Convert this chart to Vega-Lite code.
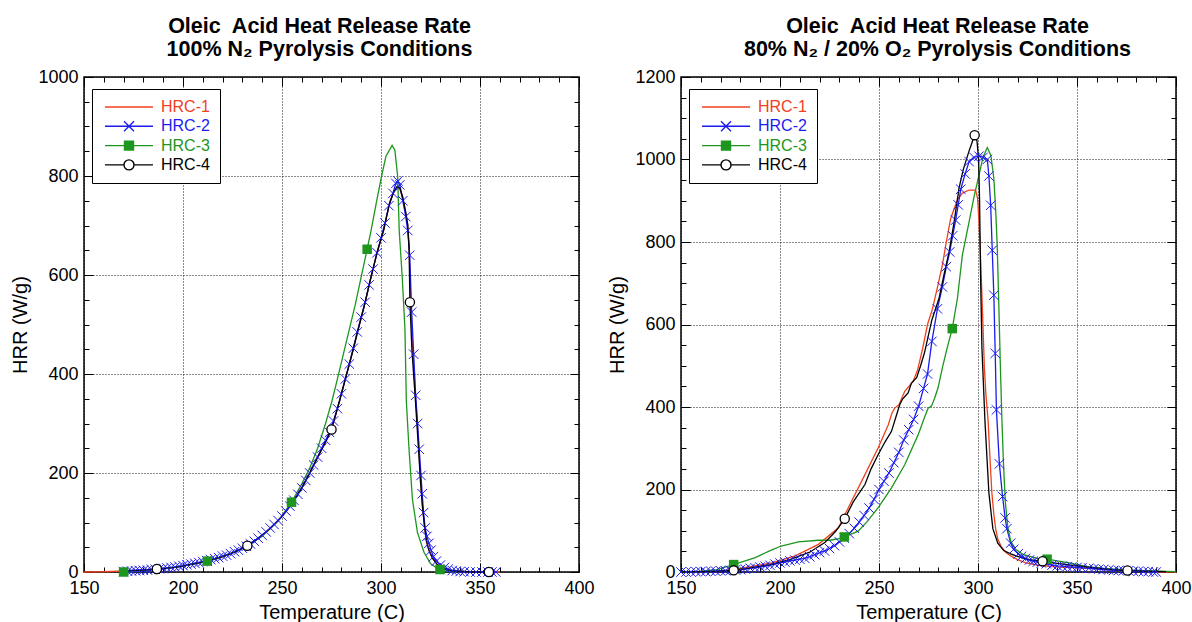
{
"$schema": "https://vega.github.io/schema/vega-lite/v6.json",
"background": "white",
"padding": {"left": 10, "top": 15, "right": 5, "bottom": 0},
"config": {
  "font": "Liberation Sans",
  "view": {"stroke": "#000", "strokeWidth": 1.5},
  "title": {"fontSize": 21.5, "fontWeight": "bold", "color": "#000", "anchor": "middle", "lineHeight": 22.5, "offset": 8, "baseline": "bottom"},
  "concat": {"spacing": 12}
},
"resolve": {
  "scale": {"color": "independent", "shape": "independent", "stroke": "independent", "fill": "independent"},
  "legend": {"color": "independent", "shape": "independent", "stroke": "independent", "fill": "independent"}
},
"datasets": {
"left": [
{"series":"HRC-1","T":150,"hrr":0},{"series":"HRC-1","T":160,"hrr":0.5},{"series":"HRC-1","T":170,"hrr":2},{"series":"HRC-1","T":180,"hrr":4},{"series":"HRC-1","T":187,"hrr":6},{"series":"HRC-1","T":195,"hrr":9},{"series":"HRC-1","T":200,"hrr":12},{"series":"HRC-1","T":206,"hrr":17},{"series":"HRC-1","T":212,"hrr":22},{"series":"HRC-1","T":220,"hrr":31},{"series":"HRC-1","T":226,"hrr":40},{"series":"HRC-1","T":232.5,"hrr":53},{"series":"HRC-1","T":238,"hrr":68},{"series":"HRC-1","T":244,"hrr":88},{"series":"HRC-1","T":250,"hrr":112},{"series":"HRC-1","T":255,"hrr":138},{"series":"HRC-1","T":260,"hrr":170},{"series":"HRC-1","T":264,"hrr":200},{"series":"HRC-1","T":268,"hrr":232},{"series":"HRC-1","T":272,"hrr":262},{"series":"HRC-1","T":275,"hrr":288},{"series":"HRC-1","T":279,"hrr":345},{"series":"HRC-1","T":283,"hrr":405},{"series":"HRC-1","T":286,"hrr":450},{"series":"HRC-1","T":288.5,"hrr":490},{"series":"HRC-1","T":292,"hrr":545},{"series":"HRC-1","T":295,"hrr":597},{"series":"HRC-1","T":298,"hrr":645},{"series":"HRC-1","T":301.4,"hrr":691},{"series":"HRC-1","T":304.3,"hrr":745},{"series":"HRC-1","T":306.5,"hrr":768},{"series":"HRC-1","T":308,"hrr":777},{"series":"HRC-1","T":309.5,"hrr":774},{"series":"HRC-1","T":311,"hrr":755},{"series":"HRC-1","T":312.5,"hrr":725},{"series":"HRC-1","T":313.5,"hrr":700},{"series":"HRC-1","T":314.2,"hrr":660},{"series":"HRC-1","T":314.6,"hrr":600},{"series":"HRC-1","T":315,"hrr":545},{"series":"HRC-1","T":316,"hrr":450},{"series":"HRC-1","T":317.6,"hrr":345},{"series":"HRC-1","T":319.2,"hrr":245},{"series":"HRC-1","T":320,"hrr":180},{"series":"HRC-1","T":321,"hrr":130},{"series":"HRC-1","T":322,"hrr":91},{"series":"HRC-1","T":323,"hrr":62},{"series":"HRC-1","T":324.2,"hrr":44},{"series":"HRC-1","T":326,"hrr":28},{"series":"HRC-1","T":328.4,"hrr":15},{"series":"HRC-1","T":331,"hrr":8},{"series":"HRC-1","T":334,"hrr":4},{"series":"HRC-1","T":337,"hrr":2},{"series":"HRC-1","T":341,"hrr":1},{"series":"HRC-1","T":346,"hrr":0},{"series":"HRC-1","T":360,"hrr":0},
{"series":"HRC-2","T":170,"hrr":1},{"series":"HRC-2","T":172,"hrr":1.5},{"series":"HRC-2","T":174,"hrr":2},{"series":"HRC-2","T":176,"hrr":2.5},{"series":"HRC-2","T":178,"hrr":3},{"series":"HRC-2","T":180,"hrr":3.5},{"series":"HRC-2","T":182,"hrr":4},{"series":"HRC-2","T":184,"hrr":5},{"series":"HRC-2","T":186,"hrr":5.5},{"series":"HRC-2","T":188,"hrr":6.5},{"series":"HRC-2","T":190,"hrr":7},{"series":"HRC-2","T":192,"hrr":8},{"series":"HRC-2","T":194,"hrr":9},{"series":"HRC-2","T":196,"hrr":10},{"series":"HRC-2","T":198,"hrr":11.5},{"series":"HRC-2","T":200,"hrr":13},{"series":"HRC-2","T":202,"hrr":14.5},{"series":"HRC-2","T":204,"hrr":16},{"series":"HRC-2","T":206,"hrr":17.5},{"series":"HRC-2","T":208,"hrr":19},{"series":"HRC-2","T":210,"hrr":21},{"series":"HRC-2","T":212,"hrr":23},{"series":"HRC-2","T":214,"hrr":25},{"series":"HRC-2","T":216,"hrr":27},{"series":"HRC-2","T":218,"hrr":29},{"series":"HRC-2","T":220,"hrr":32},{"series":"HRC-2","T":222,"hrr":34},{"series":"HRC-2","T":224,"hrr":37},{"series":"HRC-2","T":226,"hrr":41},{"series":"HRC-2","T":228,"hrr":44},{"series":"HRC-2","T":230,"hrr":48},{"series":"HRC-2","T":232,"hrr":52},{"series":"HRC-2","T":234,"hrr":57},{"series":"HRC-2","T":236,"hrr":62},{"series":"HRC-2","T":238,"hrr":68},{"series":"HRC-2","T":240,"hrr":74},{"series":"HRC-2","T":242,"hrr":81},{"series":"HRC-2","T":244,"hrr":89},{"series":"HRC-2","T":246,"hrr":96},{"series":"HRC-2","T":248,"hrr":104},{"series":"HRC-2","T":250,"hrr":113},{"series":"HRC-2","T":252,"hrr":123},{"series":"HRC-2","T":254,"hrr":133},{"series":"HRC-2","T":256,"hrr":145},{"series":"HRC-2","T":258,"hrr":157},{"series":"HRC-2","T":260,"hrr":170},{"series":"HRC-2","T":262,"hrr":185},{"series":"HRC-2","T":264,"hrr":200},{"series":"HRC-2","T":266,"hrr":216},{"series":"HRC-2","T":268,"hrr":232},{"series":"HRC-2","T":270,"hrr":250},{"series":"HRC-2","T":272,"hrr":266},{"series":"HRC-2","T":274,"hrr":282},{"series":"HRC-2","T":276,"hrr":305},{"series":"HRC-2","T":278,"hrr":330},{"series":"HRC-2","T":280,"hrr":360},{"series":"HRC-2","T":282,"hrr":390},{"series":"HRC-2","T":284,"hrr":420},{"series":"HRC-2","T":286,"hrr":452},{"series":"HRC-2","T":288,"hrr":485},{"series":"HRC-2","T":290,"hrr":515},{"series":"HRC-2","T":292,"hrr":545},{"series":"HRC-2","T":294,"hrr":580},{"series":"HRC-2","T":296,"hrr":612},{"series":"HRC-2","T":298,"hrr":645},{"series":"HRC-2","T":300,"hrr":675},{"series":"HRC-2","T":302,"hrr":705},{"series":"HRC-2","T":304,"hrr":740},{"series":"HRC-2","T":306,"hrr":765},{"series":"HRC-2","T":307.5,"hrr":785},{"series":"HRC-2","T":308.5,"hrr":790},{"series":"HRC-2","T":309.5,"hrr":782},{"series":"HRC-2","T":311,"hrr":750},{"series":"HRC-2","T":312.5,"hrr":718},{"series":"HRC-2","T":313.5,"hrr":690},{"series":"HRC-2","T":314.5,"hrr":640},{"series":"HRC-2","T":315.5,"hrr":525},{"series":"HRC-2","T":316.5,"hrr":440},{"series":"HRC-2","T":317.5,"hrr":357},{"series":"HRC-2","T":318.5,"hrr":300},{"series":"HRC-2","T":319.3,"hrr":248},{"series":"HRC-2","T":320.2,"hrr":195},{"series":"HRC-2","T":320.8,"hrr":158},{"series":"HRC-2","T":321.5,"hrr":120},{"series":"HRC-2","T":322.3,"hrr":89},{"series":"HRC-2","T":323.2,"hrr":72},{"series":"HRC-2","T":324.2,"hrr":58},{"series":"HRC-2","T":325.3,"hrr":44},{"series":"HRC-2","T":326.5,"hrr":31},{"series":"HRC-2","T":328,"hrr":22},{"series":"HRC-2","T":330,"hrr":14},{"series":"HRC-2","T":332,"hrr":9},{"series":"HRC-2","T":334,"hrr":6},{"series":"HRC-2","T":336,"hrr":3},{"series":"HRC-2","T":338,"hrr":2},{"series":"HRC-2","T":340,"hrr":1},{"series":"HRC-2","T":342,"hrr":0.5},{"series":"HRC-2","T":345,"hrr":0},{"series":"HRC-2","T":348,"hrr":0},{"series":"HRC-2","T":351,"hrr":0},{"series":"HRC-2","T":354,"hrr":0},{"series":"HRC-2","T":356,"hrr":0},{"series":"HRC-2","T":358,"hrr":0},
{"series":"HRC-3","T":170,"hrr":0},{"series":"HRC-3","T":180,"hrr":3},{"series":"HRC-3","T":190,"hrr":7},{"series":"HRC-3","T":200,"hrr":12},{"series":"HRC-3","T":212.3,"hrr":22},{"series":"HRC-3","T":220,"hrr":31},{"series":"HRC-3","T":230,"hrr":47},{"series":"HRC-3","T":240,"hrr":72},{"series":"HRC-3","T":248,"hrr":103},{"series":"HRC-3","T":254.8,"hrr":141},{"series":"HRC-3","T":260,"hrr":178},{"series":"HRC-3","T":264,"hrr":210},{"series":"HRC-3","T":268,"hrr":250},{"series":"HRC-3","T":272,"hrr":300},{"series":"HRC-3","T":275.2,"hrr":345},{"series":"HRC-3","T":278,"hrr":390},{"series":"HRC-3","T":281,"hrr":440},{"series":"HRC-3","T":284,"hrr":490},{"series":"HRC-3","T":287,"hrr":540},{"series":"HRC-3","T":290,"hrr":596},{"series":"HRC-3","T":293,"hrr":652},{"series":"HRC-3","T":295,"hrr":690},{"series":"HRC-3","T":297.6,"hrr":745},{"series":"HRC-3","T":300.3,"hrr":800},{"series":"HRC-3","T":302.5,"hrr":840},{"series":"HRC-3","T":305.6,"hrr":862},{"series":"HRC-3","T":307,"hrr":852},{"series":"HRC-3","T":308.4,"hrr":800},{"series":"HRC-3","T":309.2,"hrr":690},{"series":"HRC-3","T":310.7,"hrr":597},{"series":"HRC-3","T":312.1,"hrr":490},{"series":"HRC-3","T":312.8,"hrr":345},{"series":"HRC-3","T":314.2,"hrr":245},{"series":"HRC-3","T":315.9,"hrr":146},{"series":"HRC-3","T":318.4,"hrr":80},{"series":"HRC-3","T":321.7,"hrr":40},{"series":"HRC-3","T":325,"hrr":17},{"series":"HRC-3","T":328.4,"hrr":7},{"series":"HRC-3","T":329.8,"hrr":5},{"series":"HRC-3","T":333,"hrr":2},{"series":"HRC-3","T":338,"hrr":0},
{"series":"HRC-4","T":170,"hrr":2},{"series":"HRC-4","T":180,"hrr":4},{"series":"HRC-4","T":186.8,"hrr":6},{"series":"HRC-4","T":195,"hrr":9},{"series":"HRC-4","T":200,"hrr":12},{"series":"HRC-4","T":206,"hrr":17},{"series":"HRC-4","T":212,"hrr":22},{"series":"HRC-4","T":220,"hrr":31},{"series":"HRC-4","T":226,"hrr":40},{"series":"HRC-4","T":232.5,"hrr":53},{"series":"HRC-4","T":238,"hrr":68},{"series":"HRC-4","T":244,"hrr":88},{"series":"HRC-4","T":250,"hrr":112},{"series":"HRC-4","T":255,"hrr":138},{"series":"HRC-4","T":260,"hrr":170},{"series":"HRC-4","T":264,"hrr":200},{"series":"HRC-4","T":268,"hrr":232},{"series":"HRC-4","T":272,"hrr":262},{"series":"HRC-4","T":275,"hrr":288},{"series":"HRC-4","T":279,"hrr":345},{"series":"HRC-4","T":283,"hrr":405},{"series":"HRC-4","T":286,"hrr":450},{"series":"HRC-4","T":288.5,"hrr":490},{"series":"HRC-4","T":292,"hrr":545},{"series":"HRC-4","T":295,"hrr":597},{"series":"HRC-4","T":298,"hrr":645},{"series":"HRC-4","T":301.4,"hrr":691},{"series":"HRC-4","T":304.3,"hrr":745},{"series":"HRC-4","T":306.5,"hrr":768},{"series":"HRC-4","T":308,"hrr":778},{"series":"HRC-4","T":309.5,"hrr":776},{"series":"HRC-4","T":311,"hrr":757},{"series":"HRC-4","T":312.5,"hrr":727},{"series":"HRC-4","T":313.5,"hrr":702},{"series":"HRC-4","T":314.2,"hrr":650},{"series":"HRC-4","T":314.6,"hrr":545},{"series":"HRC-4","T":315.6,"hrr":450},{"series":"HRC-4","T":317.4,"hrr":345},{"series":"HRC-4","T":319,"hrr":245},{"series":"HRC-4","T":320,"hrr":180},{"series":"HRC-4","T":321,"hrr":130},{"series":"HRC-4","T":322,"hrr":91},{"series":"HRC-4","T":323,"hrr":62},{"series":"HRC-4","T":324.2,"hrr":44},{"series":"HRC-4","T":326,"hrr":28},{"series":"HRC-4","T":328.4,"hrr":15},{"series":"HRC-4","T":331,"hrr":8},{"series":"HRC-4","T":334,"hrr":4},{"series":"HRC-4","T":337,"hrr":2},{"series":"HRC-4","T":341,"hrr":1},{"series":"HRC-4","T":346,"hrr":0},{"series":"HRC-4","T":354.5,"hrr":0}
],
"leftMarks": [
{"series":"HRC-3","T":170,"hrr":0},{"series":"HRC-3","T":212.3,"hrr":22},{"series":"HRC-3","T":254.8,"hrr":141},{"series":"HRC-3","T":293,"hrr":652},{"series":"HRC-3","T":329.8,"hrr":5},
{"series":"HRC-4","T":186.8,"hrr":6},{"series":"HRC-4","T":232.5,"hrr":53},{"series":"HRC-4","T":275,"hrr":288},{"series":"HRC-4","T":314.6,"hrr":545},{"series":"HRC-4","T":354.5,"hrr":0}
],
"right": [
{"series":"HRC-1","T":150,"hrr":0},{"series":"HRC-1","T":160,"hrr":1},{"series":"HRC-1","T":170,"hrr":3},{"series":"HRC-1","T":175.7,"hrr":6},{"series":"HRC-1","T":185,"hrr":13},{"series":"HRC-1","T":195.9,"hrr":22},{"series":"HRC-1","T":207.7,"hrr":39},{"series":"HRC-1","T":219.4,"hrr":67},{"series":"HRC-1","T":229.5,"hrr":107},{"series":"HRC-1","T":236.2,"hrr":172},{"series":"HRC-1","T":242.9,"hrr":236},{"series":"HRC-1","T":249.6,"hrr":301},{"series":"HRC-1","T":254.7,"hrr":357},{"series":"HRC-1","T":256.5,"hrr":385},{"series":"HRC-1","T":258,"hrr":398},{"series":"HRC-1","T":260,"hrr":405},{"series":"HRC-1","T":263,"hrr":438},{"series":"HRC-1","T":267.2,"hrr":462},{"series":"HRC-1","T":269.5,"hrr":490},{"series":"HRC-1","T":272,"hrr":541},{"series":"HRC-1","T":274.5,"hrr":600},{"series":"HRC-1","T":277,"hrr":638},{"series":"HRC-1","T":279.5,"hrr":690},{"series":"HRC-1","T":282,"hrr":744},{"series":"HRC-1","T":284,"hrr":800},{"series":"HRC-1","T":286.2,"hrr":857},{"series":"HRC-1","T":289.6,"hrr":902},{"series":"HRC-1","T":292,"hrr":918},{"series":"HRC-1","T":295.5,"hrr":926},{"series":"HRC-1","T":298.8,"hrr":926},{"series":"HRC-1","T":299.8,"hrr":905},{"series":"HRC-1","T":300.5,"hrr":850},{"series":"HRC-1","T":301.3,"hrr":759},{"series":"HRC-1","T":302.3,"hrr":628},{"series":"HRC-1","T":303.2,"hrr":497},{"series":"HRC-1","T":304,"hrr":430},{"series":"HRC-1","T":305.1,"hrr":367},{"series":"HRC-1","T":306,"hrr":280},{"series":"HRC-1","T":307,"hrr":192},{"series":"HRC-1","T":308,"hrr":140},{"series":"HRC-1","T":308.9,"hrr":105},{"series":"HRC-1","T":310,"hrr":80},{"series":"HRC-1","T":311.8,"hrr":61},{"series":"HRC-1","T":314,"hrr":48},{"series":"HRC-1","T":316.5,"hrr":39},{"series":"HRC-1","T":320,"hrr":30},{"series":"HRC-1","T":324.1,"hrr":22},{"series":"HRC-1","T":330,"hrr":17},{"series":"HRC-1","T":337.4,"hrr":13},{"series":"HRC-1","T":345,"hrr":11},{"series":"HRC-1","T":356.4,"hrr":9},{"series":"HRC-1","T":365,"hrr":6},{"series":"HRC-1","T":375.4,"hrr":2},{"series":"HRC-1","T":385,"hrr":1},{"series":"HRC-1","T":400,"hrr":0},
{"series":"HRC-2","T":150,"hrr":0},{"series":"HRC-2","T":152.5,"hrr":0},{"series":"HRC-2","T":155,"hrr":0},{"series":"HRC-2","T":157.5,"hrr":1},{"series":"HRC-2","T":160,"hrr":1},{"series":"HRC-2","T":162.5,"hrr":1},{"series":"HRC-2","T":165,"hrr":2},{"series":"HRC-2","T":167.5,"hrr":2},{"series":"HRC-2","T":170,"hrr":3},{"series":"HRC-2","T":172.5,"hrr":3},{"series":"HRC-2","T":175,"hrr":4},{"series":"HRC-2","T":177.5,"hrr":5},{"series":"HRC-2","T":180,"hrr":6},{"series":"HRC-2","T":182.5,"hrr":7},{"series":"HRC-2","T":185,"hrr":9},{"series":"HRC-2","T":187.5,"hrr":10},{"series":"HRC-2","T":190,"hrr":12},{"series":"HRC-2","T":192.5,"hrr":14},{"series":"HRC-2","T":195,"hrr":16},{"series":"HRC-2","T":197.5,"hrr":19},{"series":"HRC-2","T":200,"hrr":22},{"series":"HRC-2","T":202.5,"hrr":24},{"series":"HRC-2","T":205,"hrr":27},{"series":"HRC-2","T":207.5,"hrr":29},{"series":"HRC-2","T":210,"hrr":31},{"series":"HRC-2","T":212.5,"hrr":33},{"series":"HRC-2","T":215,"hrr":37},{"series":"HRC-2","T":217.5,"hrr":42},{"series":"HRC-2","T":220,"hrr":47},{"series":"HRC-2","T":222.5,"hrr":51},{"series":"HRC-2","T":225,"hrr":57},{"series":"HRC-2","T":227.5,"hrr":64},{"series":"HRC-2","T":230,"hrr":73},{"series":"HRC-2","T":232.5,"hrr":82},{"series":"HRC-2","T":235,"hrr":93},{"series":"HRC-2","T":237.5,"hrr":106},{"series":"HRC-2","T":240,"hrr":121},{"series":"HRC-2","T":242.5,"hrr":137},{"series":"HRC-2","T":245,"hrr":155},{"series":"HRC-2","T":247.5,"hrr":176},{"series":"HRC-2","T":250,"hrr":200},{"series":"HRC-2","T":252.5,"hrr":220},{"series":"HRC-2","T":255,"hrr":240},{"series":"HRC-2","T":257.5,"hrr":265},{"series":"HRC-2","T":260,"hrr":290},{"series":"HRC-2","T":262.5,"hrr":320},{"series":"HRC-2","T":265,"hrr":345},{"series":"HRC-2","T":267.5,"hrr":370},{"series":"HRC-2","T":270,"hrr":402},{"series":"HRC-2","T":272.5,"hrr":445},{"series":"HRC-2","T":274.5,"hrr":480},{"series":"HRC-2","T":276.7,"hrr":559},{"series":"HRC-2","T":279.5,"hrr":638},{"series":"HRC-2","T":282,"hrr":691},{"series":"HRC-2","T":284,"hrr":740},{"series":"HRC-2","T":285.7,"hrr":776},{"series":"HRC-2","T":287.2,"hrr":815},{"series":"HRC-2","T":288.7,"hrr":853},{"series":"HRC-2","T":290,"hrr":890},{"series":"HRC-2","T":291.3,"hrr":928},{"series":"HRC-2","T":293.5,"hrr":965},{"series":"HRC-2","T":295.5,"hrr":995},{"series":"HRC-2","T":298,"hrr":1005},{"series":"HRC-2","T":300.5,"hrr":1008},{"series":"HRC-2","T":302.5,"hrr":1005},{"series":"HRC-2","T":304.7,"hrr":1000},{"series":"HRC-2","T":305.5,"hrr":960},{"series":"HRC-2","T":306.4,"hrr":889},{"series":"HRC-2","T":307.2,"hrr":780},{"series":"HRC-2","T":308,"hrr":671},{"series":"HRC-2","T":308.7,"hrr":530},{"series":"HRC-2","T":309.3,"hrr":393},{"series":"HRC-2","T":310.8,"hrr":262},{"series":"HRC-2","T":312.4,"hrr":183},{"series":"HRC-2","T":313.7,"hrr":131},{"series":"HRC-2","T":314.6,"hrr":105},{"series":"HRC-2","T":316.5,"hrr":70},{"series":"HRC-2","T":318,"hrr":55},{"series":"HRC-2","T":320.3,"hrr":44},{"series":"HRC-2","T":322,"hrr":38},{"series":"HRC-2","T":324,"hrr":33},{"series":"HRC-2","T":326,"hrr":29},{"series":"HRC-2","T":327.9,"hrr":26},{"series":"HRC-2","T":330,"hrr":24},{"series":"HRC-2","T":332,"hrr":22},{"series":"HRC-2","T":334.5,"hrr":20},{"series":"HRC-2","T":337.4,"hrr":17},{"series":"HRC-2","T":340,"hrr":15},{"series":"HRC-2","T":342.5,"hrr":14},{"series":"HRC-2","T":345,"hrr":13},{"series":"HRC-2","T":347.5,"hrr":12},{"series":"HRC-2","T":350,"hrr":11},{"series":"HRC-2","T":352.5,"hrr":10},{"series":"HRC-2","T":356,"hrr":9},{"series":"HRC-2","T":358.5,"hrr":8},{"series":"HRC-2","T":361,"hrr":7},{"series":"HRC-2","T":363.5,"hrr":6},{"series":"HRC-2","T":366,"hrr":5},{"series":"HRC-2","T":368.5,"hrr":4},{"series":"HRC-2","T":371,"hrr":4},{"series":"HRC-2","T":373.5,"hrr":3},{"series":"HRC-2","T":376,"hrr":3},{"series":"HRC-2","T":378.5,"hrr":2},{"series":"HRC-2","T":381,"hrr":2},{"series":"HRC-2","T":383.5,"hrr":1},{"series":"HRC-2","T":386,"hrr":1},{"series":"HRC-2","T":388.5,"hrr":0},{"series":"HRC-2","T":390,"hrr":0},
{"series":"HRC-3","T":150,"hrr":0},{"series":"HRC-3","T":160,"hrr":2},{"series":"HRC-3","T":168,"hrr":6},{"series":"HRC-3","T":176.6,"hrr":18},{"series":"HRC-3","T":187.5,"hrr":35},{"series":"HRC-3","T":195,"hrr":52},{"series":"HRC-3","T":200.6,"hrr":63},{"series":"HRC-3","T":209.3,"hrr":73},{"series":"HRC-3","T":219.4,"hrr":77},{"series":"HRC-3","T":225,"hrr":77},{"series":"HRC-3","T":229,"hrr":80},{"series":"HRC-3","T":232.5,"hrr":85},{"series":"HRC-3","T":239.5,"hrr":99},{"series":"HRC-3","T":244,"hrr":122},{"series":"HRC-3","T":249.6,"hrr":156},{"series":"HRC-3","T":256.3,"hrr":204},{"series":"HRC-3","T":263,"hrr":260},{"series":"HRC-3","T":269.8,"hrr":333},{"series":"HRC-3","T":273,"hrr":375},{"series":"HRC-3","T":274.8,"hrr":397},{"series":"HRC-3","T":276.5,"hrr":402},{"series":"HRC-3","T":278,"hrr":420},{"series":"HRC-3","T":279.8,"hrr":446},{"series":"HRC-3","T":282,"hrr":495},{"series":"HRC-3","T":284.3,"hrr":541},{"series":"HRC-3","T":287,"hrr":590},{"series":"HRC-3","T":289.6,"hrr":663},{"series":"HRC-3","T":292.1,"hrr":768},{"series":"HRC-3","T":295.5,"hrr":849},{"series":"HRC-3","T":298,"hrr":910},{"series":"HRC-3","T":300.5,"hrr":962},{"series":"HRC-3","T":302.5,"hrr":1005},{"series":"HRC-3","T":304.7,"hrr":1029},{"series":"HRC-3","T":306.5,"hrr":1010},{"series":"HRC-3","T":308,"hrr":954},{"series":"HRC-3","T":309,"hrr":870},{"series":"HRC-3","T":309.7,"hrr":792},{"series":"HRC-3","T":310.6,"hrr":630},{"series":"HRC-3","T":311.3,"hrr":500},{"series":"HRC-3","T":312,"hrr":380},{"series":"HRC-3","T":312.8,"hrr":270},{"series":"HRC-3","T":313.8,"hrr":170},{"series":"HRC-3","T":315,"hrr":110},{"series":"HRC-3","T":316.5,"hrr":75},{"series":"HRC-3","T":319,"hrr":55},{"series":"HRC-3","T":323,"hrr":42},{"series":"HRC-3","T":330,"hrr":33},{"series":"HRC-3","T":334.9,"hrr":31},{"series":"HRC-3","T":340,"hrr":27},{"series":"HRC-3","T":346,"hrr":22},{"series":"HRC-3","T":355,"hrr":13},{"series":"HRC-3","T":365,"hrr":8},{"series":"HRC-3","T":375,"hrr":5},{"series":"HRC-3","T":390,"hrr":2},{"series":"HRC-3","T":400,"hrr":1},
{"series":"HRC-4","T":150,"hrr":0},{"series":"HRC-4","T":160,"hrr":1},{"series":"HRC-4","T":170,"hrr":2},{"series":"HRC-4","T":176.6,"hrr":4},{"series":"HRC-4","T":185,"hrr":10},{"series":"HRC-4","T":195,"hrr":18},{"series":"HRC-4","T":205,"hrr":30},{"series":"HRC-4","T":215,"hrr":48},{"series":"HRC-4","T":222.8,"hrr":72},{"series":"HRC-4","T":228,"hrr":98},{"series":"HRC-4","T":232.7,"hrr":129},{"series":"HRC-4","T":237,"hrr":170},{"series":"HRC-4","T":242.9,"hrr":212},{"series":"HRC-4","T":246,"hrr":250},{"series":"HRC-4","T":249.6,"hrr":285},{"series":"HRC-4","T":253,"hrr":315},{"series":"HRC-4","T":256.3,"hrr":341},{"series":"HRC-4","T":258.5,"hrr":375},{"series":"HRC-4","T":260.5,"hrr":406},{"series":"HRC-4","T":262,"hrr":420},{"series":"HRC-4","T":263.5,"hrr":428},{"series":"HRC-4","T":264.7,"hrr":434},{"series":"HRC-4","T":266.4,"hrr":458},{"series":"HRC-4","T":269,"hrr":471},{"series":"HRC-4","T":271,"hrr":500},{"series":"HRC-4","T":273,"hrr":532},{"series":"HRC-4","T":276.7,"hrr":611},{"series":"HRC-4","T":280.3,"hrr":663},{"series":"HRC-4","T":282.8,"hrr":720},{"series":"HRC-4","T":285.4,"hrr":776},{"series":"HRC-4","T":288,"hrr":850},{"series":"HRC-4","T":290.4,"hrr":930},{"series":"HRC-4","T":292.5,"hrr":975},{"series":"HRC-4","T":295.5,"hrr":1021},{"series":"HRC-4","T":298.3,"hrr":1059},{"series":"HRC-4","T":299.5,"hrr":1045},{"series":"HRC-4","T":300.3,"hrr":1000},{"series":"HRC-4","T":300.8,"hrr":900},{"series":"HRC-4","T":301.3,"hrr":716},{"series":"HRC-4","T":302,"hrr":541},{"series":"HRC-4","T":303.5,"hrr":367},{"series":"HRC-4","T":305.5,"hrr":192},{"series":"HRC-4","T":307.5,"hrr":105},{"series":"HRC-4","T":310,"hrr":70},{"series":"HRC-4","T":313,"hrr":52},{"series":"HRC-4","T":316.5,"hrr":44},{"series":"HRC-4","T":324,"hrr":31},{"series":"HRC-4","T":332.6,"hrr":26},{"series":"HRC-4","T":340,"hrr":21},{"series":"HRC-4","T":346,"hrr":17},{"series":"HRC-4","T":359,"hrr":10},{"series":"HRC-4","T":368,"hrr":6},{"series":"HRC-4","T":375.5,"hrr":3.5},{"series":"HRC-4","T":385,"hrr":2},{"series":"HRC-4","T":395,"hrr":1}
],
"rightMarks": [
{"series":"HRC-3","T":176.6,"hrr":18},{"series":"HRC-3","T":232.5,"hrr":85},{"series":"HRC-3","T":287,"hrr":590},{"series":"HRC-3","T":334.9,"hrr":31},
{"series":"HRC-4","T":176.6,"hrr":4},{"series":"HRC-4","T":232.7,"hrr":129},{"series":"HRC-4","T":298.3,"hrr":1059},{"series":"HRC-4","T":332.6,"hrr":26},{"series":"HRC-4","T":375.5,"hrr":3.5}
],
"legendKeys": [
{"series":"HRC-1","T":250,"hrr":0},{"series":"HRC-2","T":250,"hrr":0},{"series":"HRC-3","T":250,"hrr":0},{"series":"HRC-4","T":250,"hrr":0}
]
},
"hconcat": [
{
  "width": 495, "height": 495,
  "title": {"text": ["Oleic\u00a0 Acid Heat Release Rate", "100% N₂ Pyrolysis Conditions"], "dx": -12},
  "layer": [
    {
      "resolve": {"axis": {"x": "independent", "y": "independent"}},
      "layer": [
        {
          "data": {"name": "left"},
          "mark": {"type": "line", "strokeWidth": 1.3},
          "encoding": {
            "x": {"field": "T", "type": "quantitative", "scale": {"domain": [150, 400], "nice": false, "zero": false},
              "axis": {"orient": "bottom", "values": [150,160,170,180,190,200,210,220,230,240,250,260,270,280,290,300,310,320,330,340,350,360,370,380,390,400],
                "format": "d", "labelExpr": "datum.value % 50 === 0 ? datum.label : ''",
                "tickSize": {"condition": {"test": "datum.value % 50 === 0", "value": -9}, "value": -5}, "tickColor": "#000", "tickWidth": 1,
                "grid": true, "gridColor": "#000", "gridDash": [1, 2], "gridWidth": 1,
                "gridOpacity": {"condition": {"test": "datum.value % 50 === 0", "value": 0.9}, "value": 0},
                "domain": false, "labelFontSize": 18, "labelColor": "#000", "labelPadding": 16, "labelOverlap": false, "labelFlush": false,
                "title": "Temperature (C)", "titleFontSize": 20, "titleFontWeight": "normal", "titleColor": "#000", "titlePadding": 1}},
            "y": {"field": "hrr", "type": "quantitative", "scale": {"domain": [0, 1000], "nice": false},
              "axis": {"orient": "left", "values": [0,50,100,150,200,250,300,350,400,450,500,550,600,650,700,750,800,850,900,950,1000],
                "format": "d", "labelExpr": "datum.value % 200 === 0 ? datum.label : ''",
                "tickSize": {"condition": {"test": "datum.value % 200 === 0", "value": -9}, "value": -5}, "tickColor": "#000", "tickWidth": 1,
                "grid": true, "gridColor": "#000", "gridDash": [1, 2], "gridWidth": 1,
                "gridOpacity": {"condition": {"test": "datum.value % 200 === 0", "value": 0.9}, "value": 0},
                "domain": false, "labelFontSize": 18, "labelColor": "#000", "labelPadding": 15, "labelOverlap": false, "labelFlush": false,
                "title": "HRR (W/g)", "titleFontSize": 20, "titleFontWeight": "normal", "titleColor": "#000", "titlePadding": 7}},
            "color": {"field": "series", "type": "nominal", "scale": {"domain": ["HRC-4","HRC-3","HRC-2","HRC-1"], "range": ["#000000","#1e961e","#1c1cf0","#f0401e"]}, "legend": null}
          }
        },
        {
          "data": {"name": "left"},
          "transform": [{"filter": "datum.series === 'HRC-2'"}],
          "mark": {"type": "point", "shape": "M-1,-1L1,1M-1,1L1,-1", "size": 90, "color": "#1c1cf0", "strokeWidth": 1, "filled": false, "opacity": 1},
          "encoding": {
            "x": {"field": "T", "type": "quantitative", "scale": {"domain": [150, 400], "nice": false, "zero": false}, "axis": null},
            "y": {"field": "hrr", "type": "quantitative", "scale": {"domain": [0, 1000], "nice": false}, "axis": null}
          }
        },
        {
          "data": {"name": "leftMarks"},
          "transform": [{"filter": "datum.series === 'HRC-3'"}],
          "mark": {"type": "square", "size": 90, "color": "#1e961e", "filled": true, "opacity": 1},
          "encoding": {
            "x": {"field": "T", "type": "quantitative", "scale": {"domain": [150, 400], "nice": false, "zero": false}, "axis": null},
            "y": {"field": "hrr", "type": "quantitative", "scale": {"domain": [0, 1000], "nice": false}, "axis": null}
          }
        },
        {
          "data": {"name": "leftMarks"},
          "transform": [{"filter": "datum.series === 'HRC-4'"}],
          "mark": {"type": "point", "shape": "circle", "size": 85, "filled": true, "fill": "#ffffff", "stroke": "#000000", "strokeWidth": 1.3, "opacity": 1},
          "encoding": {
            "x": {"field": "T", "type": "quantitative", "scale": {"domain": [150, 400], "nice": false, "zero": false},
              "axis": {"orient": "top", "values": [150,160,170,180,190,200,210,220,230,240,250,260,270,280,290,300,310,320,330,340,350,360,370,380,390,400],
                "labels": false, "grid": false, "domain": false, "title": null, "tickColor": "#000", "tickWidth": 1,
                "tickSize": {"condition": {"test": "datum.value % 50 === 0", "value": -9}, "value": -5}}},
            "y": {"field": "hrr", "type": "quantitative", "scale": {"domain": [0, 1000], "nice": false},
              "axis": {"orient": "right", "values": [0,50,100,150,200,250,300,350,400,450,500,550,600,650,700,750,800,850,900,950,1000],
                "labels": false, "grid": false, "domain": false, "title": null, "tickColor": "#000", "tickWidth": 1,
                "tickSize": {"condition": {"test": "datum.value % 200 === 0", "value": -9}, "value": -5}}}
          }
        }
      ]
    },
    {
      "data": {"name": "legendKeys"},
      "mark": {"type": "point", "filled": false, "strokeWidth": 1.4, "size": 0, "opacity": 1},
      "encoding": {
        "x": {"field": "T", "type": "quantitative", "scale": {"domain": [150, 400], "nice": false, "zero": false}, "axis": null},
        "y": {"field": "hrr", "type": "quantitative", "scale": {"domain": [0, 1000], "nice": false}, "axis": null},
        "shape": {"field": "series", "type": "nominal",
          "scale": {"domain": ["HRC-1","HRC-2","HRC-3","HRC-4"], "range": ["M-1,0H8.6", "M-1,0H8.6M2.8,-1L4.8,1M2.8,1L4.8,-1", "M-1,0H8.6M2.9,-0.9H4.7V0.9H2.9Z", "M-1,0H2.8M4.8,0H8.6M4.8,0A1,1,0,1,1,2.8,0A1,1,0,1,1,4.8,0Z"]},
          "legend": {"orient": "none", "legendX": 8, "legendY": 12, "title": null, "strokeColor": "#000", "fillColor": "#fff", "padding": 10,
            "symbolSize": 100, "symbolStrokeWidth": 1.4, "labelFontSize": 16, "labelOffset": 43, "rowPadding": 3.3,
            "labelColor": {"expr": "datum.value === 'HRC-1' ? '#f0401e' : datum.value === 'HRC-2' ? '#1c1cf0' : datum.value === 'HRC-3' ? '#1e961e' : '#000000'"}}},
        "stroke": {"field": "series", "type": "nominal",
          "scale": {"domain": ["HRC-1","HRC-2","HRC-3","HRC-4"], "range": ["#f0401e","#1c1cf0","#1e961e","#000000"]},
          "legend": {"orient": "none", "legendX": 8, "legendY": 12, "title": null, "strokeColor": "#000", "fillColor": "#fff", "padding": 10,
            "symbolSize": 100, "symbolStrokeWidth": 1.4, "labelFontSize": 16, "labelOffset": 43, "rowPadding": 3.3,
            "labelColor": {"expr": "datum.value === 'HRC-1' ? '#f0401e' : datum.value === 'HRC-2' ? '#1c1cf0' : datum.value === 'HRC-3' ? '#1e961e' : '#000000'"}}},
        "fill": {"field": "series", "type": "nominal",
          "scale": {"domain": ["HRC-1","HRC-2","HRC-3","HRC-4"], "range": ["transparent","transparent","#1e961e","#ffffff"]},
          "legend": {"orient": "none", "legendX": 8, "legendY": 12, "title": null, "strokeColor": "#000", "fillColor": "#fff", "padding": 10,
            "symbolSize": 100, "symbolStrokeWidth": 1.4, "labelFontSize": 16, "labelOffset": 43, "rowPadding": 3.3,
            "labelColor": {"expr": "datum.value === 'HRC-1' ? '#f0401e' : datum.value === 'HRC-2' ? '#1c1cf0' : datum.value === 'HRC-3' ? '#1e961e' : '#000000'"}}}
      }
    }
  ]
},
{
  "width": 495, "height": 495,
  "title": {"text": ["Oleic\u00a0 Acid Heat Release Rate", "80% N₂ / 20% O₂ Pyrolysis Conditions"], "dx": 9},
  "layer": [
    {
      "resolve": {"axis": {"x": "independent", "y": "independent"}},
      "layer": [
        {
          "data": {"name": "right"},
          "mark": {"type": "line", "strokeWidth": 1.3},
          "encoding": {
            "x": {"field": "T", "type": "quantitative", "scale": {"domain": [150, 400], "nice": false, "zero": false},
              "axis": {"orient": "bottom", "values": [150,160,170,180,190,200,210,220,230,240,250,260,270,280,290,300,310,320,330,340,350,360,370,380,390,400],
                "format": "d", "labelExpr": "datum.value % 50 === 0 ? datum.label : ''",
                "tickSize": {"condition": {"test": "datum.value % 50 === 0", "value": -9}, "value": -5}, "tickColor": "#000", "tickWidth": 1,
                "grid": true, "gridColor": "#000", "gridDash": [1, 2], "gridWidth": 1,
                "gridOpacity": {"condition": {"test": "datum.value % 50 === 0", "value": 0.9}, "value": 0},
                "domain": false, "labelFontSize": 18, "labelColor": "#000", "labelPadding": 16, "labelOverlap": false, "labelFlush": false,
                "title": "Temperature (C)", "titleFontSize": 20, "titleFontWeight": "normal", "titleColor": "#000", "titlePadding": 1}},
            "y": {"field": "hrr", "type": "quantitative", "scale": {"domain": [0, 1200], "nice": false},
              "axis": {"orient": "left", "values": [0,50,100,150,200,250,300,350,400,450,500,550,600,650,700,750,800,850,900,950,1000,1050,1100,1150,1200],
                "format": "d", "labelExpr": "datum.value % 200 === 0 ? datum.label : ''",
                "tickSize": {"condition": {"test": "datum.value % 200 === 0", "value": -9}, "value": -5}, "tickColor": "#000", "tickWidth": 1,
                "grid": true, "gridColor": "#000", "gridDash": [1, 2], "gridWidth": 1,
                "gridOpacity": {"condition": {"test": "datum.value % 200 === 0", "value": 0.9}, "value": 0},
                "domain": false, "labelFontSize": 18, "labelColor": "#000", "labelPadding": 15, "labelOverlap": false, "labelFlush": false,
                "title": "HRR (W/g)", "titleFontSize": 20, "titleFontWeight": "normal", "titleColor": "#000", "titlePadding": 7}},
            "color": {"field": "series", "type": "nominal", "scale": {"domain": ["HRC-4","HRC-3","HRC-2","HRC-1"], "range": ["#000000","#1e961e","#1c1cf0","#f0401e"]}, "legend": null}
          }
        },
        {
          "data": {"name": "right"},
          "transform": [{"filter": "datum.series === 'HRC-2'"}],
          "mark": {"type": "point", "shape": "M-1,-1L1,1M-1,1L1,-1", "size": 90, "color": "#1c1cf0", "strokeWidth": 1, "filled": false, "opacity": 1},
          "encoding": {
            "x": {"field": "T", "type": "quantitative", "scale": {"domain": [150, 400], "nice": false, "zero": false}, "axis": null},
            "y": {"field": "hrr", "type": "quantitative", "scale": {"domain": [0, 1200], "nice": false}, "axis": null}
          }
        },
        {
          "data": {"name": "rightMarks"},
          "transform": [{"filter": "datum.series === 'HRC-3'"}],
          "mark": {"type": "square", "size": 90, "color": "#1e961e", "filled": true, "opacity": 1},
          "encoding": {
            "x": {"field": "T", "type": "quantitative", "scale": {"domain": [150, 400], "nice": false, "zero": false}, "axis": null},
            "y": {"field": "hrr", "type": "quantitative", "scale": {"domain": [0, 1200], "nice": false}, "axis": null}
          }
        },
        {
          "data": {"name": "rightMarks"},
          "transform": [{"filter": "datum.series === 'HRC-4'"}],
          "mark": {"type": "point", "shape": "circle", "size": 85, "filled": true, "fill": "#ffffff", "stroke": "#000000", "strokeWidth": 1.3, "opacity": 1},
          "encoding": {
            "x": {"field": "T", "type": "quantitative", "scale": {"domain": [150, 400], "nice": false, "zero": false},
              "axis": {"orient": "top", "values": [150,160,170,180,190,200,210,220,230,240,250,260,270,280,290,300,310,320,330,340,350,360,370,380,390,400],
                "labels": false, "grid": false, "domain": false, "title": null, "tickColor": "#000", "tickWidth": 1,
                "tickSize": {"condition": {"test": "datum.value % 50 === 0", "value": -9}, "value": -5}}},
            "y": {"field": "hrr", "type": "quantitative", "scale": {"domain": [0, 1200], "nice": false},
              "axis": {"orient": "right", "values": [0,50,100,150,200,250,300,350,400,450,500,550,600,650,700,750,800,850,900,950,1000,1050,1100,1150,1200],
                "labels": false, "grid": false, "domain": false, "title": null, "tickColor": "#000", "tickWidth": 1,
                "tickSize": {"condition": {"test": "datum.value % 200 === 0", "value": -9}, "value": -5}}}
          }
        }
      ]
    },
    {
      "data": {"name": "legendKeys"},
      "mark": {"type": "point", "filled": false, "strokeWidth": 1.4, "size": 0, "opacity": 1},
      "encoding": {
        "x": {"field": "T", "type": "quantitative", "scale": {"domain": [150, 400], "nice": false, "zero": false}, "axis": null},
        "y": {"field": "hrr", "type": "quantitative", "scale": {"domain": [0, 1200], "nice": false}, "axis": null},
        "shape": {"field": "series", "type": "nominal",
          "scale": {"domain": ["HRC-1","HRC-2","HRC-3","HRC-4"], "range": ["M-1,0H8.6", "M-1,0H8.6M2.8,-1L4.8,1M2.8,1L4.8,-1", "M-1,0H8.6M2.9,-0.9H4.7V0.9H2.9Z", "M-1,0H2.8M4.8,0H8.6M4.8,0A1,1,0,1,1,2.8,0A1,1,0,1,1,4.8,0Z"]},
          "legend": {"orient": "none", "legendX": 8, "legendY": 12, "title": null, "strokeColor": "#000", "fillColor": "#fff", "padding": 10,
            "symbolSize": 100, "symbolStrokeWidth": 1.4, "labelFontSize": 16, "labelOffset": 43, "rowPadding": 3.3,
            "labelColor": {"expr": "datum.value === 'HRC-1' ? '#f0401e' : datum.value === 'HRC-2' ? '#1c1cf0' : datum.value === 'HRC-3' ? '#1e961e' : '#000000'"}}},
        "stroke": {"field": "series", "type": "nominal",
          "scale": {"domain": ["HRC-1","HRC-2","HRC-3","HRC-4"], "range": ["#f0401e","#1c1cf0","#1e961e","#000000"]},
          "legend": {"orient": "none", "legendX": 8, "legendY": 12, "title": null, "strokeColor": "#000", "fillColor": "#fff", "padding": 10,
            "symbolSize": 100, "symbolStrokeWidth": 1.4, "labelFontSize": 16, "labelOffset": 43, "rowPadding": 3.3,
            "labelColor": {"expr": "datum.value === 'HRC-1' ? '#f0401e' : datum.value === 'HRC-2' ? '#1c1cf0' : datum.value === 'HRC-3' ? '#1e961e' : '#000000'"}}},
        "fill": {"field": "series", "type": "nominal",
          "scale": {"domain": ["HRC-1","HRC-2","HRC-3","HRC-4"], "range": ["transparent","transparent","#1e961e","#ffffff"]},
          "legend": {"orient": "none", "legendX": 8, "legendY": 12, "title": null, "strokeColor": "#000", "fillColor": "#fff", "padding": 10,
            "symbolSize": 100, "symbolStrokeWidth": 1.4, "labelFontSize": 16, "labelOffset": 43, "rowPadding": 3.3,
            "labelColor": {"expr": "datum.value === 'HRC-1' ? '#f0401e' : datum.value === 'HRC-2' ? '#1c1cf0' : datum.value === 'HRC-3' ? '#1e961e' : '#000000'"}}}
      }
    }
  ]
}
]
}
